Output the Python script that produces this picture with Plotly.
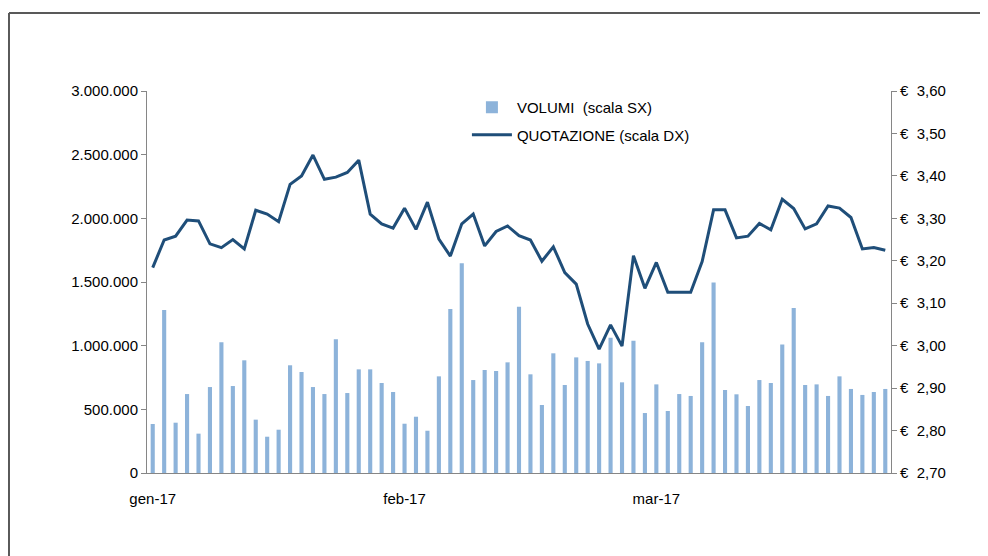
import plotly.graph_objects as go

volumi = [385000, 1280000, 395000, 620000, 309000, 675000, 1026000, 683000, 885000, 419000,
          285000, 340000, 846000, 793000, 675000, 620000, 1050000, 628000, 814000, 814000,
          707000, 636000, 387000, 442000, 332000, 759000, 1288000, 1647000, 730000, 809000,
          801000, 869000, 1306000, 775000, 534000, 940000, 691000, 908000, 880000, 861000,
          1063000, 712000, 1039000, 471000, 696000, 487000, 620000, 605000, 1026000, 1497000,
          652000, 618000, 526000, 730000, 707000, 1010000, 1296000, 691000, 696000, 605000,
          759000, 660000, 613000, 636000, 660000]

quotazione = [3.184, 3.249, 3.258, 3.296, 3.294, 3.240, 3.231, 3.250, 3.228, 3.319,
              3.310, 3.292, 3.380, 3.400, 3.449, 3.392, 3.397, 3.408, 3.437, 3.310,
              3.287, 3.277, 3.324, 3.274, 3.338, 3.251, 3.211, 3.287, 3.310, 3.235,
              3.269, 3.282, 3.259, 3.249, 3.199, 3.233, 3.172, 3.145, 3.051, 2.992,
              3.049, 2.999, 3.212, 3.135, 3.196, 3.126, 3.126, 3.126, 3.198, 3.320,
              3.320, 3.254, 3.258, 3.288, 3.273, 3.345, 3.323, 3.275, 3.287, 3.329,
              3.324, 3.302, 3.228, 3.231, 3.225]

giorni = list(range(len(volumi)))
tick_pos = [0, 22, 44]
tick_labels = ["gen-17", "feb-17", "mar-17"]

font = "Liberation Sans, Arial, sans-serif"
axis_col = "#868686"

fig = go.Figure()
fig.add_trace(go.Bar(
    x=giorni, y=volumi, name="VOLUMI\u00a0\u00a0(scala SX)",
    marker=dict(color="#8db3da", line=dict(width=0)),
    legendgroup="a", yaxis="y",
))
fig.add_trace(go.Scatter(
    x=giorni, y=quotazione, name="QUOTAZIONE (scala DX)",
    mode="lines", line=dict(color="#1f4e79", width=3),
    legendgroup="b", yaxis="y2",
))

fig.update_layout(
    width=980, height=548,
    margin=dict(l=139, r=97, t=83, b=83),
    paper_bgcolor="white", plot_bgcolor="white",
    separators=",.",
    bargap=0.64,
    font=dict(family=font, size=15, color="#000000"),
    showlegend=True,
    legend=dict(x=0.43, y=1.0, xanchor="left", yanchor="top",
                bgcolor="rgba(0,0,0,0)", font=dict(size=15),
                tracegroupgap=5, itemwidth=40),
    xaxis=dict(range=[-0.5, len(volumi) - 0.5], tickmode="array",
               tickvals=tick_pos, ticktext=tick_labels,
               showgrid=False, zeroline=False, showline=True,
               linecolor=axis_col, linewidth=1, ticks="", ticklen=0,
               ticklabelstandoff=12),
    yaxis=dict(range=[0, 3000000], dtick=500000, tickformat=",d",
               showgrid=False, zeroline=False, showline=True,
               linecolor=axis_col, linewidth=1, ticks="outside",
               ticklen=5, tickcolor=axis_col),
    yaxis2=dict(range=[2.70, 3.60], dtick=0.1, tick0=2.70, tickformat=".2f",
                tickprefix="€\u00a0\u00a0", overlaying="y", side="right",
                showgrid=False, zeroline=False, showline=True,
                linecolor=axis_col, linewidth=1, ticks="outside",
                ticklen=5, tickcolor=axis_col),
    shapes=[
        dict(type="line", xref="paper", yref="paper", x0=-0.1855, x1=1.3,
             y0=1.2042, y1=1.2042, line=dict(color="#595959", width=2)),
        dict(type="line", xref="paper", yref="paper", x0=-0.1855, x1=-0.1855,
             y0=1.2042, y1=-0.3, line=dict(color="#595959", width=2)),
    ],
)

fig.write_html("out.html")
